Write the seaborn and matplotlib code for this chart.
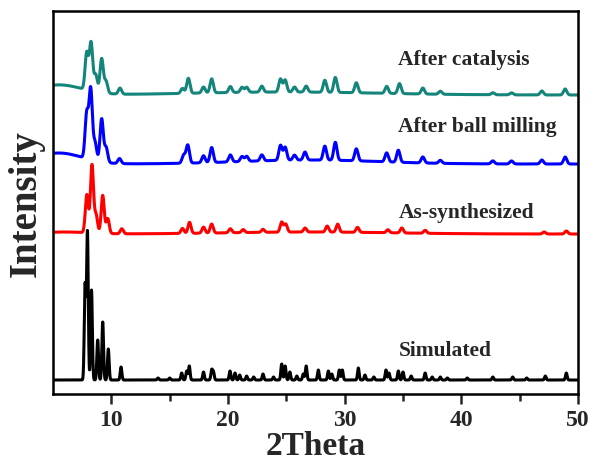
import numpy as np
import pandas as pd
import matplotlib
matplotlib.use('Agg')
import matplotlib.pyplot as plt
import seaborn as sns

# peak lists (2theta, height above baseline)
sim_pos = [7.75, 7.95, 8.3, 8.83, 9.26, 9.74, 10.83, 14.0, 15.0, 16.03, 16.46, 16.68, 17.9, 18.6, 18.75,
           20.17, 20.6, 21.0, 21.6, 22.2, 23.0, 23.9, 24.6, 24.9, 25.3, 25.9, 26.45, 26.7, 27.74, 28.6,
           28.9, 29.54, 29.8, 31.17, 31.74, 32.5, 33.54, 33.8, 34.6, 35.0, 35.7, 36.9, 37.5, 38.2, 38.8,
           40.5, 42.7, 44.4, 45.6, 47.2, 49.0]
sim_h = [95, 148, 90, 40, 58, 31, 13, 2, 2, 7, 9, 14, 8, 10, 8,
         9, 7, 5, 4, 3, 6, 3, 16, 14, 8, 4, 6, 14, 10, 9,
         6, 10, 10, 12, 5, 3, 10, 7, 9, 8, 4, 7, 3, 3, 2,
         2, 3, 3, 2, 4, 7]

red_pos = [7.9, 8.34, 8.69, 9.26, 9.69, 10.9, 16.1, 16.7, 17.9, 18.6, 20.2, 21.3, 23.0, 24.6, 24.95,
           26.6, 28.5, 29.4, 31.1, 33.7, 34.9, 36.9, 47.1, 49.0]
red_h = [38, 68, 18, 38, 15, 5, 5, 11, 6, 9, 4, 3, 3, 10, 8,
         4, 6, 8, 5, 3, 5, 3, 2, 3]

blue_pos = [7.89, 8.23, 8.6, 9.17, 9.55, 10.7, 16.2, 16.55, 17.9, 18.6, 20.2, 21.2, 21.6, 22.9, 24.5,
            24.9, 25.7, 26.6, 28.3, 29.2, 31.0, 33.6, 34.6, 36.7, 38.2, 42.7, 44.3, 46.9, 48.9]
blue_h = [45, 70, 18, 43, 15, 5, 8, 18, 7, 15, 7, 5, 5, 6, 15,
          13, 5, 8, 14, 18, 12, 9, 12, 6, 3, 3, 3, 4, 7]

teal_pos = [7.89, 8.26, 8.66, 9.17, 9.54, 10.74, 16.1, 16.6, 17.9, 18.6, 20.2, 21.2, 21.6, 22.9, 24.5,
            24.9, 25.7, 26.7, 28.3, 29.2, 31.0, 33.6, 34.7, 36.7, 38.2, 42.7, 44.3, 46.9, 48.9]
teal_h = [37, 48, 17, 34, 12, 6, 5, 15, 6, 14, 6, 5, 5, 6, 13,
          12, 5, 6, 12, 15, 10, 7, 10, 6, 3, 2, 2, 4, 6]

# broad background humps (2theta, height, width) and stacking offsets
bg = {
    'Simulated': ([], [], []),
    'As-synthesized': ([6.0, 27.0], [2, 2], [2.0, 7.0]),
    'After ball milling': ([5.5, 27.0], [11, 4], [2.0, 6.0]),
    'After catalysis': ([5.5, 25.0], [10, 3], [2.0, 8.0]),
}
offsets = {'Simulated': 14, 'As-synthesized': 160, 'After ball milling': 230, 'After catalysis': 299}
sigmas = {'Simulated': 0.07, 'As-synthesized': 0.13, 'After ball milling': 0.14, 'After catalysis': 0.14}
colors = {'Simulated': 'black', 'As-synthesized': '#ff0000',
          'After ball milling': '#0000ff', 'After catalysis': '#14857a'}
peaks = {'Simulated': (sim_pos, sim_h), 'As-synthesized': (red_pos, red_h),
         'After ball milling': (blue_pos, blue_h), 'After catalysis': (teal_pos, teal_h)}

x = np.linspace(5, 50, 4501)
frames = []
for name, (pos, h) in peaks.items():
    y = np.full_like(x, offsets[name], dtype=float)
    for p, a in zip(pos, h):
        y += a * np.exp(-0.5 * ((x - p) / sigmas[name]) ** 2)
    for p, a, w in zip(*bg[name]):
        y += a * np.exp(-0.5 * ((x - p) / w) ** 2)
    frames.append(pd.DataFrame({'2theta': x, 'I': y, 'sample': name}))
df = pd.concat(frames, ignore_index=True)

sns.set_style('ticks')
plt.rcParams['font.family'] = ['Liberation Serif', 'DejaVu Serif']
plt.rcParams['font.weight'] = 'bold'

fig = plt.figure(figsize=(5.93, 4.64), dpi=100)
ax = fig.add_axes([0.0894, 0.1487, 0.8853, 0.8254])
sns.lineplot(data=df, x='2theta', y='I', hue='sample', palette=colors, estimator=None,
             legend=False, linewidth=2.2, ax=ax)

ax.set_xlim(5, 50)
ax.set_ylim(0, 383)
ax.set_xticks([10, 20, 30, 40, 50])
ax.set_xticks([15, 25, 35, 45], minor=True)
ax.set_yticks([])
ax.tick_params(axis='x', which='major', length=7, width=1.8, direction='out', labelsize=17, pad=4)
ax.tick_params(axis='x', which='minor', length=5, width=1.8, direction='out')
for lab in ax.get_xticklabels():
    lab.set_fontweight('bold')
for s in ax.spines.values():
    s.set_linewidth(1.8)
    s.set_color('black')

ax.set_xlabel('2Theta', fontsize=24, fontweight='bold', labelpad=0)
ax.set_ylabel('Intensity', fontsize=28, fontweight='bold', labelpad=6)

label_y = {'After catalysis': 330, 'After ball milling': 263, 'As-synthesized': 177, 'Simulated': 39}
for name, yy in label_y.items():
    ax.text(34.6, yy, name, fontsize=15.5, fontweight='bold', ha='left', va='baseline')

fig.savefig('out.png', dpi=100)
